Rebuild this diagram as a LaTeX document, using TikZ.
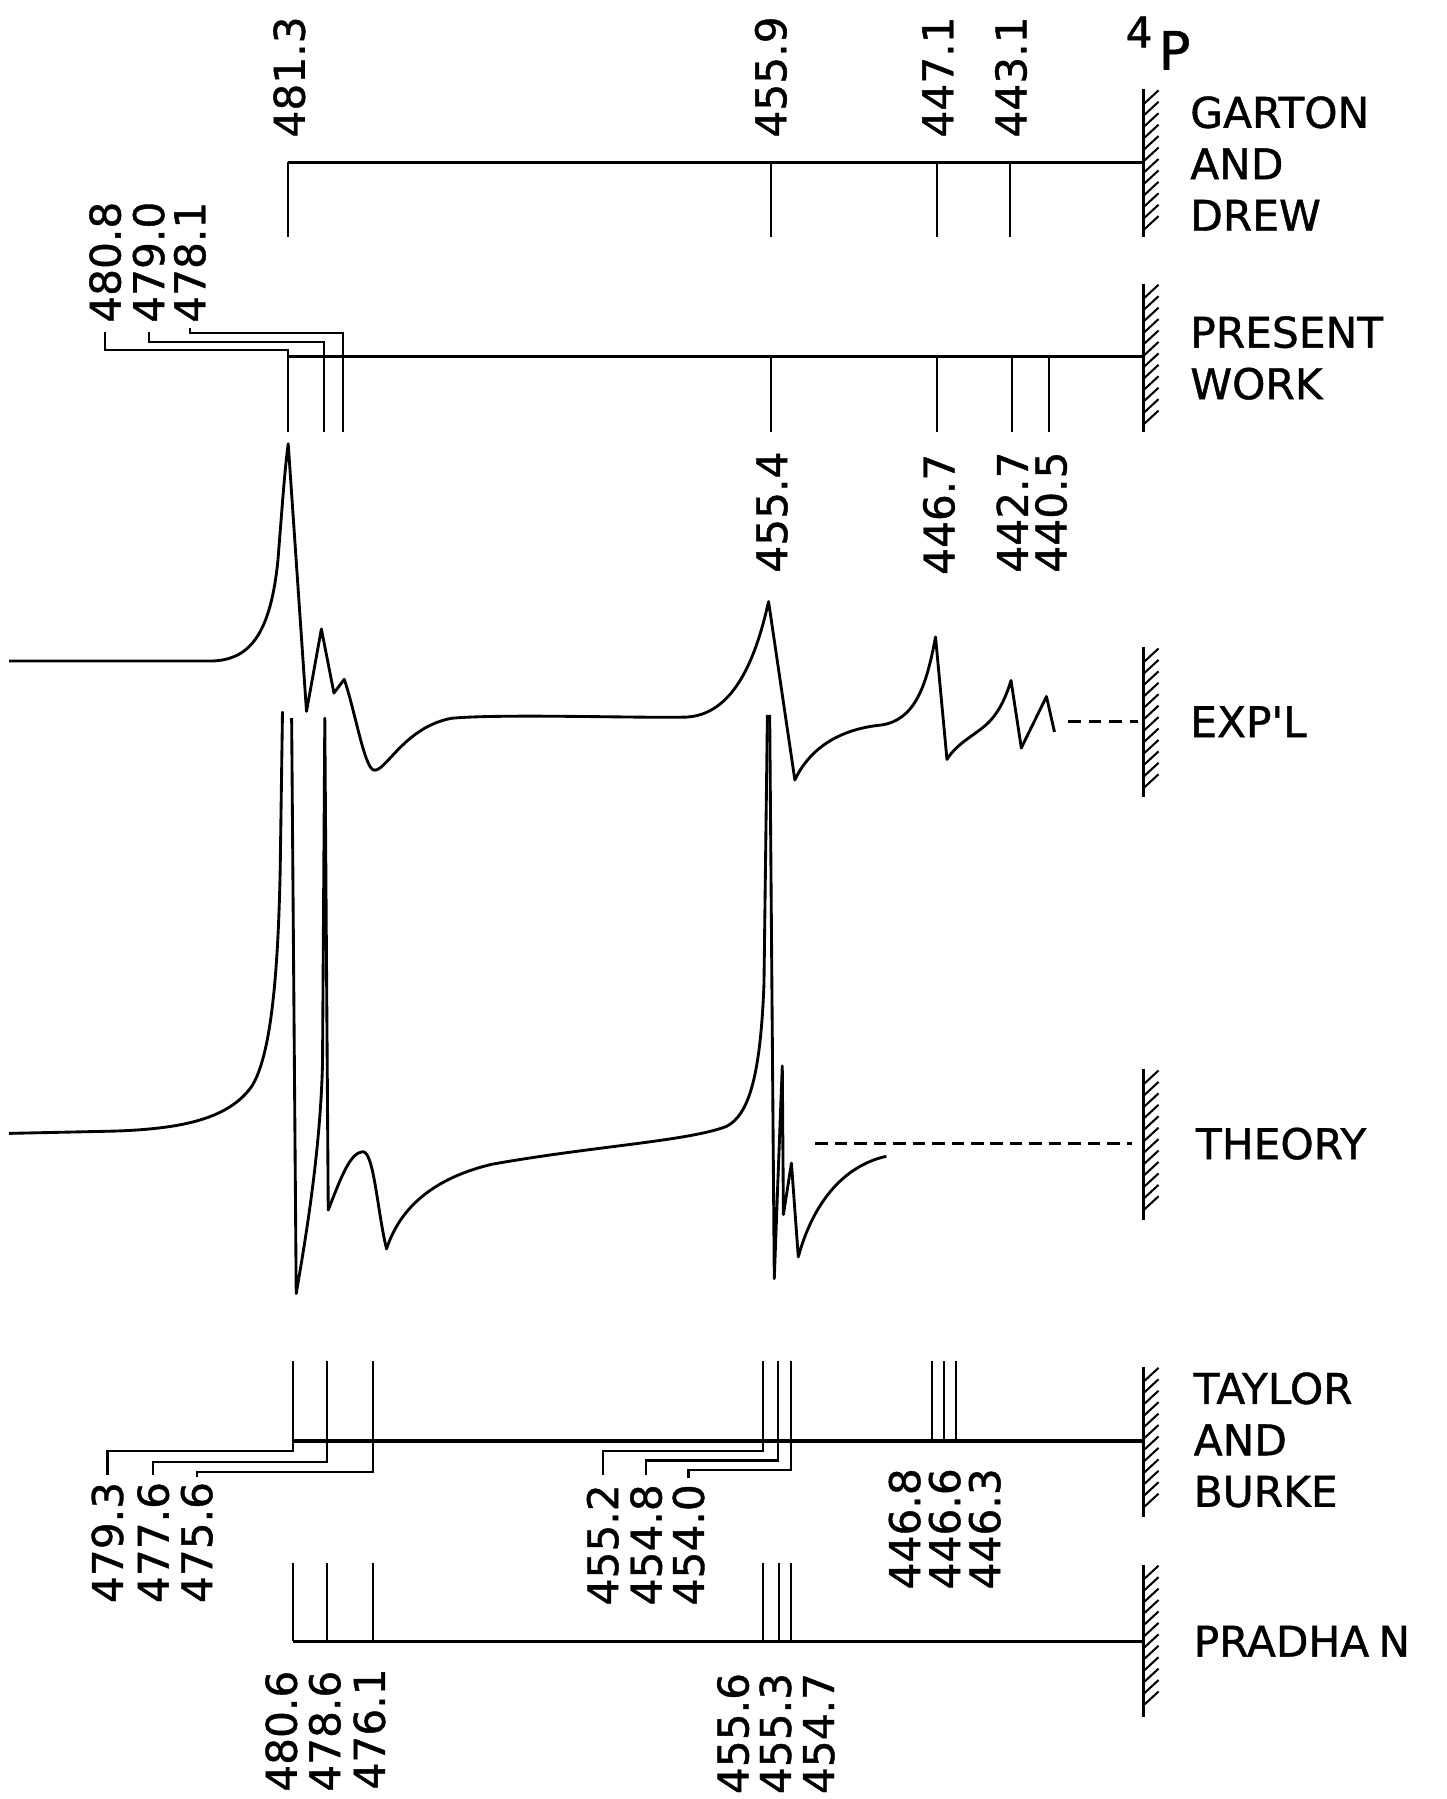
\documentclass[tikz,border=0pt]{standalone}
\usepackage{fontspec}
\setmainfont{DejaVu Sans}[FakeBold=1]
\usetikzlibrary{calc}

\tikzset{every picture/.style={line width=0.75pt}}
\tikzset{
  num/.style={rotate=90, inner sep=0pt, font=\fontsize{18.5}{22}\selectfont},
  lbl/.style={anchor=west, align=left, inner sep=0pt, font=\fontsize{18.5}{22.5}\selectfont},
  axisline/.style={line width=1.4pt},
  tickline/.style={line width=0.9pt},
  curve/.style={line width=1.25pt, line join=round},
  wallline/.style={line width=1.3pt},
}
% hatched end wall at x=1000
\newcommand{\hatchwall}[2]{%
  \draw[wallline] (1000,#1) -- (1000,#2);
  \foreach \k in {0,...,11} \draw[line width=0.9pt] (1000,#1+13+10*\k) -- ++(13,-12);
}

\begin{document}
\begin{tikzpicture}[x=0.5pt,y=0.5pt,yscale=-1,xscale=1]
	\useasboundingbox (0,0) rectangle (1265,1573);

	%Straight Lines: Garton and Drew
	\draw[axisline] (252,142) -- (1000,142);
	\foreach \tx in {252,674,819,883} \draw[tickline] (\tx,142) -- (\tx,207);
	\hatchwall{78}{207}
	% Text Node
	\node[num, anchor=west] (g4813) at (253,121) {481.3};
	\node[num, anchor=west] (g4559) at (674,121) {455.9};
	\node[num, anchor=west] (g4471) at (820,121) {447.1};
	\node[num, anchor=west] (g4431) at (884,121) {443.1};
	\node[font=\fontsize{18.5}{20}\selectfont] (four) at (996,28) {4};
	\node[font=\fontsize{23}{24}\selectfont] (pterm) at (1027,44) {P};
	\node[lbl] (garton) at (1040,143) {GARTON\\AND\\DREW};

	%Straight Lines: present work
	\draw[axisline] (252,312) -- (1000,312);
	\foreach \tx in {252,283,300,674,819,885,917} \draw[tickline] (\tx,312) -- (\tx,378);
	\hatchwall{248}{378}
	% Text Node
	\node[num, anchor=west] (p4808) at (92,283) {480.8};
	\node[num, anchor=west] (p4790) at (130,283) {479.0};
	\node[num, anchor=west] (p4781) at (166,283) {478.1};
	\draw[tickline] (252,312) -- (252,306) -| ($(p4808.west)+(0,7)$);
	\draw[tickline] (283,312) -- (283,299) -| ($(p4790.west)+(0,7)$);
	\draw[tickline] (300,312) -- (300,291) -| ($(p4781.west)+(0,4)$);
	\node[num, anchor=east] (p4554) at (675,394) {455.4};
	\node[num, anchor=east] (p4467) at (821,396) {446.7};
	\node[num, anchor=east] (p4427) at (885,394) {442.7};
	\node[num, anchor=east] (p4405) at (919,394) {440.5};
	\node[lbl] (present) at (1040,313) {PRESENT\\WORK};

	%Curve Lines: experimental
	\draw[curve] (8,578) -- (185,578)
	  .. controls (215,577) and (236,560) .. (243,490)
	  .. controls (247,440) and (249,410) .. (252,388)
	  -- (268,622) -- (281,550) -- (292,606) -- (301,594)
	  .. controls (310,620) and (318,668) .. (326,673)
	  .. controls (336,678) and (352,636) .. (395,628)
	  .. controls (440,624) and (560,628) .. (600,627)
	  .. controls (640,625) and (660,580) .. (672,526)
	  -- (695,682)
	  .. controls (710,650) and (740,637) .. (770,634)
	  .. controls (800,630) and (810,600) .. (818,557)
	  -- (828,664)
	  .. controls (838,648) and (855,642) .. (866,630)
	  .. controls (875,620) and (880,608) .. (884,595)
	  -- (893,654) -- (915,609) -- (922,640);
	\draw[line width=1.2pt, dash pattern=on 5.5pt off 3.5pt] (934,631) -- (995,631);
	\hatchwall{566}{697}
	% Text Node
	\node[lbl] (expl) at (1040,631) {EXP\textquotesingle L};

	%Curve Lines: theory
	\draw[curve] (8,991) -- (100,989)
	  .. controls (160,987) and (200,978) .. (220,950)
	  .. controls (236,925) and (243,860) .. (245,760)
	  -- (247,622);
	\draw[curve] (255,628) -- (259,1131)
	  .. controls (266,1090) and (280,1010) .. (282,930)
	  -- (284,628) -- (287,1058)
	  .. controls (298,1030) and (306,1008) .. (317,1007)
	  .. controls (327,1006) and (330,1060) .. (338,1092)
	  .. controls (350,1055) and (380,1030) .. (430,1018)
	  .. controls (520,1002) and (600,998) .. (635,985)
	  .. controls (655,975) and (665,940) .. (668,860)
	  -- (671,625);
	\draw[curve] (673,625) -- (677,1118) -- (680,1037) -- (684,932) -- (685,1062)
	  -- (692,1017) -- (698,1099)
	  .. controls (710,1055) and (735,1020) .. (775,1011);
	\draw[line width=1.2pt, dash pattern=on 5.5pt off 3pt] (713,1000) -- (990,1000);
	\hatchwall{935}{1067}
	% Text Node
	\node[lbl] (theory) at (1045,1000) {THEORY};

	%Straight Lines: Taylor and Burke
	\draw[axisline] (256,1260) -- (1000,1260);
	\foreach \tx in {256,286,326,667,680,692,815,825,836} \draw[tickline] (\tx,1190) -- (\tx,1260);
	\hatchwall{1195}{1326}
	% Text Node
	\node[num, anchor=east] (t4793) at (94,1295) {479.3};
	\node[num, anchor=east] (t4776) at (134,1295) {477.6};
	\node[num, anchor=east] (t4756) at (172,1295) {475.6};
	\draw[tickline] (256,1260) -- (256,1269) -| ($(t4793.east)+(0,-5)$);
	\draw[tickline] (286,1260) -- (286,1278) -| ($(t4776.east)+(0,-5)$);
	\draw[tickline] (326,1260) -- (326,1287) -| ($(t4756.east)+(0,-4)$);
	\node[num, anchor=east] (t4552) at (527,1297) {455.2};
	\node[num, anchor=east] (t4548) at (565,1297) {454.8};
	\node[num, anchor=east] (t4540) at (602,1297) {454.0};
	\draw[tickline] (667,1260) -- (667,1269) -| ($(t4552.east)+(0,-7)$);
	\draw[tickline] (680,1260) -- (680,1277) -| ($(t4548.east)+(0,-7)$);
	\draw[tickline] (692,1260) -- (692,1285) -| ($(t4540.east)+(0,-5)$);
	\node[num, anchor=east] (t4468) at (791,1283) {446.8};
	\node[num, anchor=east] (t4466) at (826,1283) {446.6};
	\node[num, anchor=east] (t4463) at (861,1283) {446.3};
	\node[lbl] (taylor) at (1043,1259) {TAYLOR\\AND\\BURKE};

	%Straight Lines: Pradhan
	\draw[axisline] (256,1435) -- (1000,1435);
	\foreach \tx in {256,286,326,667,681,692} \draw[tickline] (\tx,1367) -- (\tx,1435);
	\hatchwall{1368}{1501}
	% Text Node
	\node[num, anchor=east] (r4806) at (246,1460) {480.6};
	\node[num, anchor=east] (r4786) at (284,1460) {478.6};
	\node[num, anchor=east] (r4761) at (323,1458) {476.1};
	\node[num, anchor=east] (r4556) at (641,1462) {455.6};
	\node[num, anchor=east] (r4553) at (678,1462) {455.3};
	\node[num, anchor=east] (r4547) at (716,1462) {454.7};
	\node[lbl] (pradhan) at (1043,1435) {PRADHA\hspace{4pt}N};

\end{tikzpicture}
\end{document}
